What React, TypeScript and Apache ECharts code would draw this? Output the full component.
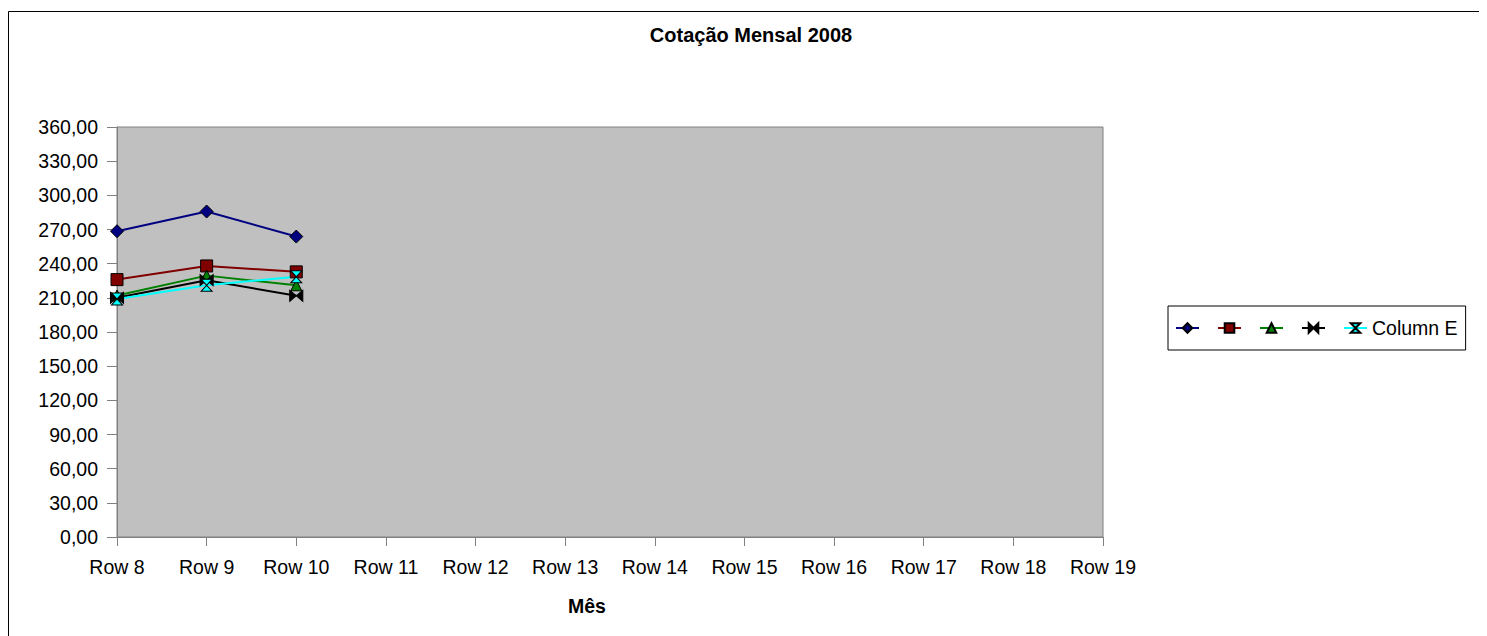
import React, { useEffect, useRef } from "react";
import * as echarts from "echarts";

const categories = ["Row 8", "Row 9", "Row 10", "Row 11", "Row 12", "Row 13", "Row 14", "Row 15", "Row 16", "Row 17", "Row 18", "Row 19"];
const seriesA = [268.5, 285.8, 263.8];
const seriesB = [226.0, 238.0, 232.8];
const seriesC = [212.0, 229.5, 221.0];
const seriesD = [210.0, 225.5, 211.8];
const seriesE = [209.0, 221.0, 228.5];
const seriesNames = ["A", "B", "C", "D", "Column E"];
const yTicks = { min: 0, max: 360, interval: 30 };

const FONT = "'Liberation Sans', Arial, sans-serif";
const FS = 19.5;

export default function App() {
  const ref = useRef<HTMLDivElement>(null);
  useEffect(() => {
    document.documentElement.style.overflow = "hidden";
    document.body.style.overflow = "hidden";
    const chart = echarts.init(ref.current!, undefined, { renderer: "svg" });
    const mk = (name: string, data: number[], color: string, symbol: string, size: any, fill: string) => ({
      name,
      type: "line",
      data,
      symbol,
      symbolSize: size,
      showSymbol: true,
      lineStyle: { color, width: 2 },
      itemStyle: { color: fill, borderColor: "#000", borderWidth: 1 },
      emphasis: { disabled: true },
    });
    chart.setOption({
      animation: false,
      textStyle: { fontFamily: FONT },
      title: {
        text: "Cotação Mensal 2008",
        left: 743,
        textAlign: "center",
        top: 17,
        padding: 0,
        textStyle: { fontSize: 20, fontWeight: "bold", color: "#000", fontFamily: FONT },
      },
      grid: {
        left: 109,
        top: 119,
        width: 986,
        height: 410,
        show: true,
        backgroundColor: "#c0c0c0",
        borderColor: "#808080",
        borderWidth: 1,
      },
      legend: {
        left: 1160,
        top: 298,
        orient: "horizontal",
        padding: [12, 8, 12, 7],
        itemWidth: 23,
        itemHeight: 12,
        itemGap: 17,
        backgroundColor: "#fff",
        borderColor: "#000",
        borderWidth: 1,
        borderRadius: 0,
        formatter: (n: string) => (n === "Column E" ? n : ""),
        textStyle: { fontSize: FS, color: "#000", fontFamily: FONT },
        data: seriesNames,
      },
      xAxis: {
        type: "category",
        data: categories,
        boundaryGap: false,
        axisLine: { show: true, lineStyle: { color: "#808080" } },
        axisTick: { show: true, length: 9, alignWithLabel: true, lineStyle: { color: "#808080" } },
        axisLabel: { fontSize: FS, color: "#000", margin: 20, interval: 0, fontFamily: FONT },
        splitLine: { show: false },
        name: "Mês",
        nameLocation: "middle",
        nameGap: 59,
        nameTextStyle: { fontSize: FS, fontWeight: "bold", color: "#000", padding: [0, 46, 0, 0], fontFamily: FONT },
      },
      yAxis: {
        type: "value",
        min: yTicks.min,
        max: yTicks.max,
        interval: yTicks.interval,
        axisLine: { show: true, lineStyle: { color: "#808080" } },
        axisTick: { show: true, length: 10, lineStyle: { color: "#808080" } },
        axisLabel: {
          fontSize: FS,
          color: "#000",
          margin: 19,
          fontFamily: FONT,
          formatter: (v: number) => v.toFixed(2).replace(".", ","),
        },
        splitLine: { show: false },
      },
      graphic: [
        {
          type: "polyline",
          shape: { points: [[0.5, 900], [0.5, 3.5], [2000, 3.5]] },
          style: { fill: "none", stroke: "#000", lineWidth: 1 },
          silent: true,
          z: -10,
        },
      ],
      series: [
        mk(seriesNames[0], seriesA, "#000080", "diamond", 13, "#000080"),
        mk(seriesNames[1], seriesB, "#800000", "rect", 12, "#800000"),
        mk(seriesNames[2], seriesC, "#008000", "triangle", 11, "#008000"),
        mk(seriesNames[3], seriesD, "#000000", "path://M0,0L6,5L0,10ZM12,0L6,5L12,10Z", [13, 11], "#000000"),
        mk(seriesNames[4], seriesE, "#00ffff", "path://M0,0L10,0L5,6L10,12L0,12L5,6Z", [11, 12], "#00ffff"),
      ],
    });
    return () => chart.dispose();
  }, []);
  return <div ref={ref} style={{ width: 1487, height: 628 }} />;
}
